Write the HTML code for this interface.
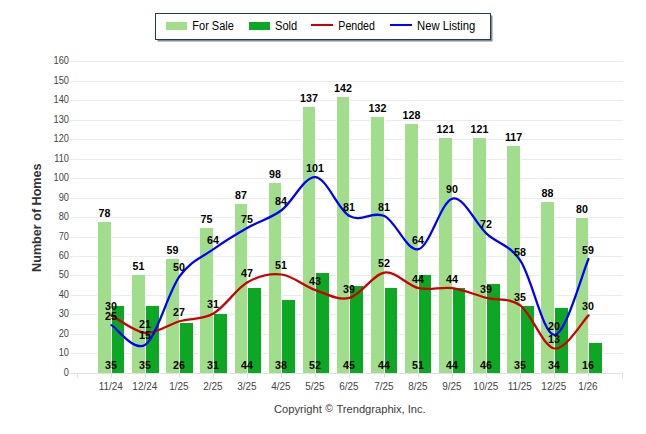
<!DOCTYPE html>
<html><head><meta charset="utf-8"><style>
html,body{margin:0;padding:0;background:#fff;}
body{width:646px;height:434px;overflow:hidden;font-family:"Liberation Sans",sans-serif;}
svg{display:block}
text{font-family:"Liberation Sans",sans-serif;}
.yl{font-size:10.5px;fill:#444;text-anchor:end}
.xl{font-size:10.2px;fill:#444;text-anchor:middle}
.v{font-size:10.67px;font-weight:bold;fill:#000;text-anchor:middle}
.lg{font-size:12px;fill:#000}
</style></head><body>
<svg width="646" height="434" viewBox="0 0 646 434">
<rect width="646" height="434" fill="#fff"/>
<line x1="70" x2="623" y1="373.5" y2="373.5" stroke="#e0e0e0" stroke-width="1"/>
<text class="yl" transform="translate(69.0,375.7) scale(0.88,1)">0</text>
<line x1="70" x2="623" y1="353.5" y2="353.5" stroke="#ebebeb" stroke-width="1"/>
<text class="yl" transform="translate(69.0,355.7) scale(0.88,1)">10</text>
<line x1="70" x2="623" y1="334.5" y2="334.5" stroke="#ebebeb" stroke-width="1"/>
<text class="yl" transform="translate(69.0,336.7) scale(0.88,1)">20</text>
<line x1="70" x2="623" y1="314.5" y2="314.5" stroke="#ebebeb" stroke-width="1"/>
<text class="yl" transform="translate(69.0,316.7) scale(0.88,1)">30</text>
<line x1="70" x2="623" y1="295.5" y2="295.5" stroke="#ebebeb" stroke-width="1"/>
<text class="yl" transform="translate(69.0,297.7) scale(0.88,1)">40</text>
<line x1="70" x2="623" y1="275.5" y2="275.5" stroke="#ebebeb" stroke-width="1"/>
<text class="yl" transform="translate(69.0,277.7) scale(0.88,1)">50</text>
<line x1="70" x2="623" y1="256.5" y2="256.5" stroke="#ebebeb" stroke-width="1"/>
<text class="yl" transform="translate(69.0,258.7) scale(0.88,1)">60</text>
<line x1="70" x2="623" y1="237.5" y2="237.5" stroke="#ebebeb" stroke-width="1"/>
<text class="yl" transform="translate(69.0,239.7) scale(0.88,1)">70</text>
<line x1="70" x2="623" y1="217.5" y2="217.5" stroke="#ebebeb" stroke-width="1"/>
<text class="yl" transform="translate(69.0,219.7) scale(0.88,1)">80</text>
<line x1="70" x2="623" y1="198.5" y2="198.5" stroke="#ebebeb" stroke-width="1"/>
<text class="yl" transform="translate(69.0,200.7) scale(0.88,1)">90</text>
<line x1="70" x2="623" y1="178.5" y2="178.5" stroke="#ebebeb" stroke-width="1"/>
<text class="yl" transform="translate(69.0,180.7) scale(0.88,1)">100</text>
<line x1="70" x2="623" y1="159.5" y2="159.5" stroke="#ebebeb" stroke-width="1"/>
<text class="yl" transform="translate(69.0,161.7) scale(0.88,1)">110</text>
<line x1="70" x2="623" y1="139.5" y2="139.5" stroke="#ebebeb" stroke-width="1"/>
<text class="yl" transform="translate(69.0,141.7) scale(0.88,1)">120</text>
<line x1="70" x2="623" y1="120.5" y2="120.5" stroke="#ebebeb" stroke-width="1"/>
<text class="yl" transform="translate(69.0,122.7) scale(0.88,1)">130</text>
<line x1="70" x2="623" y1="100.5" y2="100.5" stroke="#ebebeb" stroke-width="1"/>
<text class="yl" transform="translate(69.0,102.7) scale(0.88,1)">140</text>
<line x1="70" x2="623" y1="81.5" y2="81.5" stroke="#ebebeb" stroke-width="1"/>
<text class="yl" transform="translate(69.0,83.7) scale(0.88,1)">150</text>
<line x1="70" x2="623" y1="61.5" y2="61.5" stroke="#ebebeb" stroke-width="1"/>
<text class="yl" transform="translate(69.0,63.7) scale(0.88,1)">160</text>
<line x1="77.5" x2="77.5" y1="374" y2="378" stroke="#e0e0e0" stroke-width="1"/>
<line x1="111.5" x2="111.5" y1="374" y2="378" stroke="#e0e0e0" stroke-width="1"/>
<line x1="145.5" x2="145.5" y1="374" y2="378" stroke="#e0e0e0" stroke-width="1"/>
<line x1="179.5" x2="179.5" y1="374" y2="378" stroke="#e0e0e0" stroke-width="1"/>
<line x1="213.5" x2="213.5" y1="374" y2="378" stroke="#e0e0e0" stroke-width="1"/>
<line x1="247.5" x2="247.5" y1="374" y2="378" stroke="#e0e0e0" stroke-width="1"/>
<line x1="281.5" x2="281.5" y1="374" y2="378" stroke="#e0e0e0" stroke-width="1"/>
<line x1="315.5" x2="315.5" y1="374" y2="378" stroke="#e0e0e0" stroke-width="1"/>
<line x1="349.5" x2="349.5" y1="374" y2="378" stroke="#e0e0e0" stroke-width="1"/>
<line x1="384.5" x2="384.5" y1="374" y2="378" stroke="#e0e0e0" stroke-width="1"/>
<line x1="418.5" x2="418.5" y1="374" y2="378" stroke="#e0e0e0" stroke-width="1"/>
<line x1="452.5" x2="452.5" y1="374" y2="378" stroke="#e0e0e0" stroke-width="1"/>
<line x1="486.5" x2="486.5" y1="374" y2="378" stroke="#e0e0e0" stroke-width="1"/>
<line x1="520.5" x2="520.5" y1="374" y2="378" stroke="#e0e0e0" stroke-width="1"/>
<line x1="554.5" x2="554.5" y1="374" y2="378" stroke="#e0e0e0" stroke-width="1"/>
<line x1="588.5" x2="588.5" y1="374" y2="378" stroke="#e0e0e0" stroke-width="1"/>
<line x1="622.5" x2="622.5" y1="374" y2="378" stroke="#e0e0e0" stroke-width="1"/>
<rect x="97" y="221" width="15" height="152" fill="#fff"/>
<rect x="98" y="222" width="13" height="151" fill="#a0de8c"/>
<rect x="111" y="305" width="14" height="68" fill="#fff"/>
<rect x="112" y="306" width="12" height="67" fill="#0da823"/>
<text class="xl" transform="translate(110.8,390) scale(0.975,1)">11/24</text>
<rect x="131" y="274" width="15" height="99" fill="#fff"/>
<rect x="132" y="275" width="13" height="98" fill="#a0de8c"/>
<rect x="145" y="305" width="15" height="68" fill="#fff"/>
<rect x="146" y="306" width="13" height="67" fill="#0da823"/>
<text class="xl" transform="translate(144.8,390) scale(0.975,1)">12/24</text>
<rect x="165" y="258" width="15" height="115" fill="#fff"/>
<rect x="166" y="259" width="13" height="114" fill="#a0de8c"/>
<rect x="179" y="322" width="15" height="51" fill="#fff"/>
<rect x="180" y="323" width="13" height="50" fill="#0da823"/>
<text class="xl" transform="translate(178.8,390) scale(0.975,1)">1/25</text>
<rect x="199" y="227" width="15" height="146" fill="#fff"/>
<rect x="200" y="228" width="13" height="145" fill="#a0de8c"/>
<rect x="213" y="313" width="15" height="60" fill="#fff"/>
<rect x="214" y="314" width="13" height="59" fill="#0da823"/>
<text class="xl" transform="translate(212.8,390) scale(0.975,1)">2/25</text>
<rect x="234" y="203" width="14" height="170" fill="#fff"/>
<rect x="235" y="204" width="12" height="169" fill="#a0de8c"/>
<rect x="247" y="287" width="15" height="86" fill="#fff"/>
<rect x="248" y="288" width="13" height="85" fill="#0da823"/>
<text class="xl" transform="translate(246.8,390) scale(0.975,1)">3/25</text>
<rect x="268" y="182" width="14" height="191" fill="#fff"/>
<rect x="269" y="183" width="12" height="190" fill="#a0de8c"/>
<rect x="281" y="299" width="15" height="74" fill="#fff"/>
<rect x="282" y="300" width="13" height="73" fill="#0da823"/>
<text class="xl" transform="translate(280.8,390) scale(0.975,1)">4/25</text>
<rect x="302" y="106" width="14" height="267" fill="#fff"/>
<rect x="303" y="107" width="12" height="266" fill="#a0de8c"/>
<rect x="315" y="272" width="15" height="101" fill="#fff"/>
<rect x="316" y="273" width="13" height="100" fill="#0da823"/>
<text class="xl" transform="translate(314.8,390) scale(0.975,1)">5/25</text>
<rect x="336" y="96" width="14" height="277" fill="#fff"/>
<rect x="337" y="97" width="12" height="276" fill="#a0de8c"/>
<rect x="349" y="285" width="15" height="88" fill="#fff"/>
<rect x="350" y="286" width="13" height="87" fill="#0da823"/>
<text class="xl" transform="translate(348.8,390) scale(0.975,1)">6/25</text>
<rect x="370" y="116" width="15" height="257" fill="#fff"/>
<rect x="371" y="117" width="13" height="256" fill="#a0de8c"/>
<rect x="384" y="287" width="14" height="86" fill="#fff"/>
<rect x="385" y="288" width="12" height="85" fill="#0da823"/>
<text class="xl" transform="translate(383.8,390) scale(0.975,1)">7/25</text>
<rect x="404" y="123" width="15" height="250" fill="#fff"/>
<rect x="405" y="124" width="13" height="249" fill="#a0de8c"/>
<rect x="418" y="274" width="14" height="99" fill="#fff"/>
<rect x="419" y="275" width="12" height="98" fill="#0da823"/>
<text class="xl" transform="translate(417.8,390) scale(0.975,1)">8/25</text>
<rect x="438" y="137" width="15" height="236" fill="#fff"/>
<rect x="439" y="138" width="13" height="235" fill="#a0de8c"/>
<rect x="452" y="287" width="14" height="86" fill="#fff"/>
<rect x="453" y="288" width="12" height="85" fill="#0da823"/>
<text class="xl" transform="translate(451.8,390) scale(0.975,1)">9/25</text>
<rect x="472" y="137" width="15" height="236" fill="#fff"/>
<rect x="473" y="138" width="13" height="235" fill="#a0de8c"/>
<rect x="486" y="283" width="15" height="90" fill="#fff"/>
<rect x="487" y="284" width="13" height="89" fill="#0da823"/>
<text class="xl" transform="translate(485.8,390) scale(0.975,1)">10/25</text>
<rect x="506" y="145" width="15" height="228" fill="#fff"/>
<rect x="507" y="146" width="13" height="227" fill="#a0de8c"/>
<rect x="520" y="305" width="15" height="68" fill="#fff"/>
<rect x="521" y="306" width="13" height="67" fill="#0da823"/>
<text class="xl" transform="translate(519.8,390) scale(0.975,1)">11/25</text>
<rect x="540" y="201" width="15" height="172" fill="#fff"/>
<rect x="541" y="202" width="13" height="171" fill="#a0de8c"/>
<rect x="554" y="307" width="15" height="66" fill="#fff"/>
<rect x="555" y="308" width="13" height="65" fill="#0da823"/>
<text class="xl" transform="translate(553.8,390) scale(0.975,1)">12/25</text>
<rect x="575" y="217" width="14" height="156" fill="#fff"/>
<rect x="576" y="218" width="12" height="155" fill="#a0de8c"/>
<rect x="588" y="342" width="15" height="31" fill="#fff"/>
<rect x="589" y="343" width="13" height="30" fill="#0da823"/>
<text class="xl" transform="translate(587.8,390) scale(0.975,1)">1/26</text>
<path d="M111.50,315.39C117.17,318.31 134.17,331.94 145.50,332.91C156.83,333.89 168.17,324.48 179.50,321.23C190.83,317.99 202.17,319.93 213.50,313.44C224.83,306.95 236.17,288.78 247.50,282.29C258.83,275.80 270.17,273.21 281.50,274.50C292.83,275.80 304.17,286.19 315.50,290.08C326.83,293.97 338.00,300.79 349.50,297.87C361.00,294.95 373.00,274.18 384.50,272.56C396.00,270.93 407.17,285.54 418.50,288.13C429.83,290.73 441.17,286.51 452.50,288.13C463.83,289.75 475.17,294.95 486.50,297.87C497.83,300.79 509.17,297.22 520.50,305.66C531.83,314.09 543.17,346.87 554.50,348.49C565.83,350.11 582.83,320.91 588.50,315.39" fill="none" stroke="#cc0000" stroke-width="2.25" stroke-linejoin="round" stroke-linecap="round"/>
<path d="M111.50,325.12C117.17,328.37 134.17,352.71 145.50,344.60C156.83,336.48 168.17,292.35 179.50,276.45C190.83,260.55 202.17,257.30 213.50,249.19C224.83,241.08 236.17,234.27 247.50,227.78C258.83,221.28 270.17,218.69 281.50,210.25C292.83,201.81 304.17,176.18 315.50,177.15C326.83,178.13 338.00,209.60 349.50,216.09C361.00,222.58 373.00,210.58 384.50,216.09C396.00,221.61 407.17,252.11 418.50,249.19C429.83,246.27 441.17,201.17 452.50,198.57C463.83,195.97 475.17,223.23 486.50,233.62C497.83,244.00 509.17,244.00 520.50,260.87C531.83,277.75 543.17,335.18 554.50,334.86C565.83,334.54 582.83,271.58 588.50,258.93" fill="none" stroke="#0000ff" stroke-width="2.25" stroke-linejoin="round" stroke-linecap="round"/>
<text class="v" x="104.5" y="216.7">78</text>
<text class="v" x="111.0" y="369">35</text>
<text class="v" x="111.0" y="310.2">30</text>
<text class="v" x="111.0" y="319.9">25</text>
<text class="v" x="138.5" y="269.7">51</text>
<text class="v" x="145.0" y="369">35</text>
<text class="v" x="145.0" y="327.7">21</text>
<text class="v" x="145.0" y="339.4">15</text>
<text class="v" x="172.5" y="253.7">59</text>
<text class="v" x="179.0" y="369">26</text>
<text class="v" x="179.0" y="316.0">27</text>
<text class="v" x="179.0" y="271.2">50</text>
<text class="v" x="206.5" y="222.7">75</text>
<text class="v" x="213.0" y="369">31</text>
<text class="v" x="213.0" y="308.2">31</text>
<text class="v" x="213.0" y="244.0">64</text>
<text class="v" x="241.0" y="198.7">87</text>
<text class="v" x="247.0" y="369">44</text>
<text class="v" x="247.0" y="277.1">47</text>
<text class="v" x="247.0" y="222.6">75</text>
<text class="v" x="275.0" y="177.7">98</text>
<text class="v" x="281.0" y="369">38</text>
<text class="v" x="281.0" y="269.3">51</text>
<text class="v" x="281.0" y="205.1">84</text>
<text class="v" x="309.0" y="101.7">137</text>
<text class="v" x="315.0" y="369">52</text>
<text class="v" x="315.0" y="284.9">43</text>
<text class="v" x="315.0" y="172.0">101</text>
<text class="v" x="343.0" y="91.7">142</text>
<text class="v" x="349.0" y="369">45</text>
<text class="v" x="349.0" y="292.7">39</text>
<text class="v" x="349.0" y="210.9">81</text>
<text class="v" x="377.5" y="111.7">132</text>
<text class="v" x="384.0" y="369">44</text>
<text class="v" x="384.0" y="267.4">52</text>
<text class="v" x="384.0" y="210.9">81</text>
<text class="v" x="411.5" y="118.7">128</text>
<text class="v" x="418.0" y="369">51</text>
<text class="v" x="418.0" y="282.9">44</text>
<text class="v" x="418.0" y="244.0">64</text>
<text class="v" x="445.5" y="132.7">121</text>
<text class="v" x="452.0" y="369">44</text>
<text class="v" x="452.0" y="282.9">44</text>
<text class="v" x="452.0" y="193.4">90</text>
<text class="v" x="479.5" y="132.7">121</text>
<text class="v" x="486.0" y="369">46</text>
<text class="v" x="486.0" y="292.7">39</text>
<text class="v" x="486.0" y="228.4">72</text>
<text class="v" x="513.5" y="140.7">117</text>
<text class="v" x="520.0" y="369">35</text>
<text class="v" x="520.0" y="300.5">35</text>
<text class="v" x="520.0" y="255.7">58</text>
<text class="v" x="547.5" y="196.7">88</text>
<text class="v" x="554.0" y="369">34</text>
<text class="v" x="554.0" y="343.3">13</text>
<text class="v" x="554.0" y="329.7">20</text>
<text class="v" x="582.0" y="212.7">80</text>
<text class="v" x="588.0" y="369">16</text>
<text class="v" x="588.0" y="310.2">30</text>
<text class="v" x="588.0" y="253.7">59</text>
<text transform="translate(41.4,271.9) rotate(-90)" font-size="13.5" font-weight="bold" fill="#333" textLength="108.5" lengthAdjust="spacingAndGlyphs">Number of Homes</text>
<text x="274" y="412.6" font-size="11.2" fill="#3c3c3c" textLength="47.8">Copyright</text>
<text x="329" y="411.6" font-size="10.3" fill="#3c3c3c" text-anchor="middle">©</text>
<text x="336.4" y="412.6" font-size="11.2" fill="#3c3c3c" textLength="89.3">Trendgraphix, Inc.</text>
<rect x="157.5" y="15.5" width="335" height="26" fill="#888"/>
<rect x="155.5" y="13.5" width="335" height="26" fill="#fff" stroke="#1a3b69" stroke-width="1"/>
<rect x="166" y="22" width="21" height="8" fill="#a0de8c"/>
<text class="lg" x="192.3" y="29.5" textLength="41.6" lengthAdjust="spacingAndGlyphs">For Sale</text>
<rect x="249" y="22" width="21" height="8" fill="#0da823"/>
<text class="lg" x="275" y="29.5" textLength="22.2" lengthAdjust="spacingAndGlyphs">Sold</text>
<line x1="311" x2="333" y1="25" y2="25" stroke="#cc0000" stroke-width="2"/>
<text class="lg" x="338.3" y="29.5" textLength="36.6" lengthAdjust="spacingAndGlyphs">Pended</text>
<line x1="390" x2="412" y1="25" y2="25" stroke="#0000ff" stroke-width="2"/>
<text class="lg" x="417" y="29.5" textLength="58.3" lengthAdjust="spacingAndGlyphs">New Listing</text>
</svg></body></html>
